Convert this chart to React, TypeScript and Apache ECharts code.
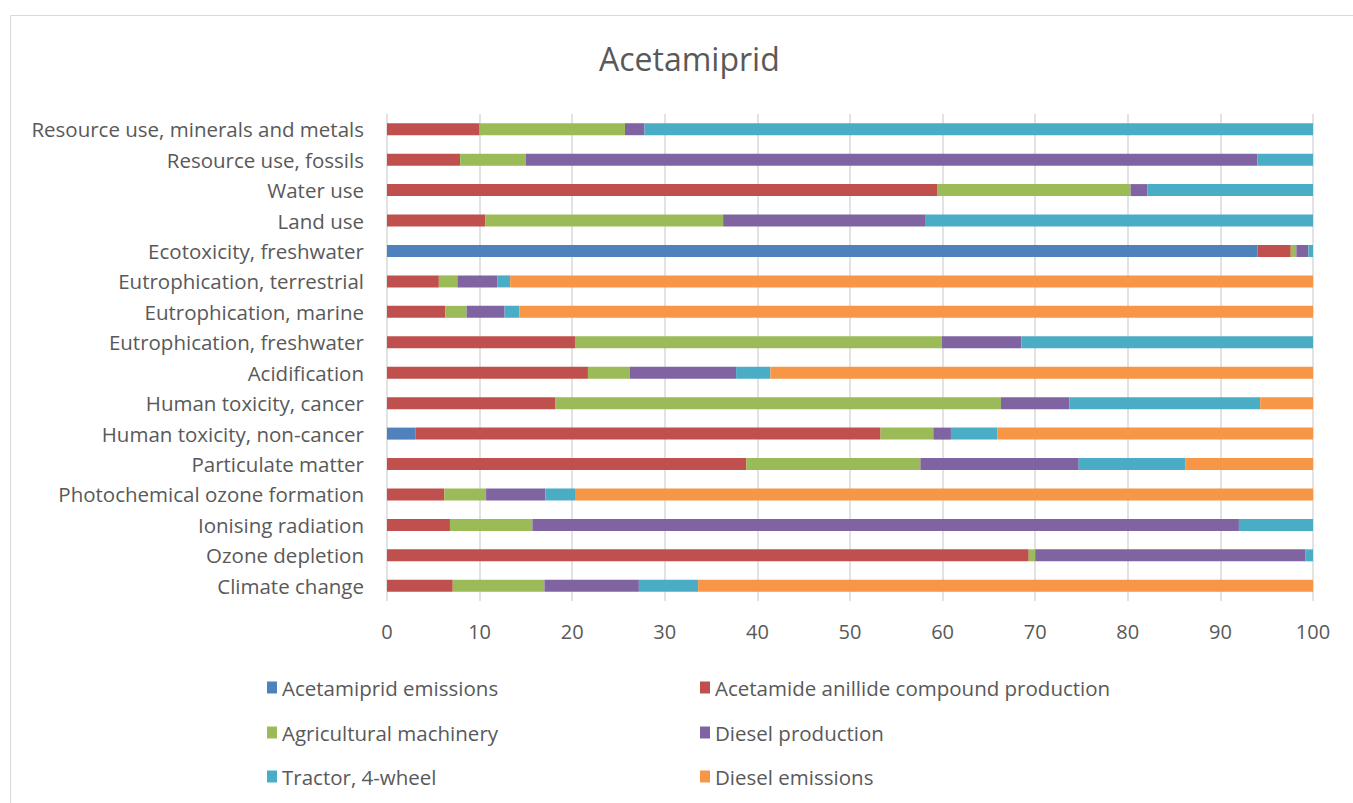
import React, { useEffect, useRef } from "react";
import * as echarts from "echarts";

const categories = [
  "Climate change",
  "Ozone depletion",
  "Ionising radiation",
  "Photochemical ozone formation",
  "Particulate matter",
  "Human toxicity, non-cancer",
  "Human toxicity, cancer",
  "Acidification",
  "Eutrophication, freshwater",
  "Eutrophication, marine",
  "Eutrophication, terrestrial",
  "Ecotoxicity, freshwater",
  "Land use",
  "Water use",
  "Resource use, fossils",
  "Resource use, minerals and metals",
];

const seriesNames = [
  "Acetamiprid emissions",
  "Acetamide anillide compound production",
  "Agricultural machinery",
  "Diesel production",
  "Tractor, 4-wheel",
  "Diesel emissions",
];

const acetamipridEmissions = [0, 0, 0, 0, 0, 3.1, 0, 0, 0, 0, 0, 94.0, 0, 0, 0, 0];
const acetamideProduction = [7.1, 69.3, 6.8, 6.2, 38.8, 50.2, 18.2, 21.7, 20.3, 6.3, 5.6, 3.6, 10.6, 59.4, 7.9, 10.0];
const agriculturalMachinery = [9.9, 0.7, 8.9, 4.5, 18.8, 5.7, 48.1, 4.5, 39.6, 2.3, 2.0, 0.6, 25.7, 20.9, 7.1, 15.7];
const dieselProduction = [10.2, 29.2, 76.3, 6.4, 17.1, 1.9, 7.4, 11.5, 8.6, 4.1, 4.3, 1.3, 21.8, 1.8, 79.0, 2.1];
const tractor4Wheel = [6.4, 0.8, 8.0, 3.2, 11.5, 5.0, 20.6, 3.7, 31.5, 1.6, 1.4, 0.5, 41.9, 17.9, 6.0, 72.2];
const dieselEmissions = [66.4, 0, 0, 79.7, 13.8, 34.1, 5.7, 58.6, 0, 85.7, 86.7, 0, 0, 0, 0, 0];

const xTicks = [0, 10, 20, 30, 40, 50, 60, 70, 80, 90, 100];

const seriesData = [
  acetamipridEmissions,
  acetamideProduction,
  agriculturalMachinery,
  dieselProduction,
  tractor4Wheel,
  dieselEmissions,
];
const colors = ["#4F81BD", "#C0504D", "#9BBB59", "#8064A2", "#4BACC6", "#F79646"];

const FONT = "'Open Sans', 'Noto Sans', sans-serif";
const TEXT = "#595959";

export default function App() {
  const ref = useRef<HTMLDivElement>(null);
  useEffect(() => {
    if (!ref.current) return;
    const chart = echarts.init(ref.current, null, { renderer: "svg" });
    const legendPos = [
      [262, 685],
      [695, 685],
      [262, 730],
      [695, 730],
      [262, 774],
      [695, 774],
    ];
    chart.setOption({
      animation: false,
      backgroundColor: "#ffffff",
      textStyle: { fontFamily: FONT },
      title: {
        text: "Acetamiprid",
        left: 594,
        top: 37,
        textStyle: { fontFamily: FONT, fontSize: 32, fontWeight: "normal", color: TEXT },
      },
      graphic: [
        {
          type: "rect",
          shape: { x: 10.5, y: 15.5, width: 1400, height: 900 },
          style: { fill: "none", stroke: "#d9d9d9", lineWidth: 1 },
          silent: true,
        },
      ],
      legend: seriesNames.map((n, i) => ({
        data: [n],
        left: legendPos[i][0],
        top: legendPos[i][1] - 13,
        icon: "rect",
        itemWidth: 10,
        itemHeight: 12,
        itemGap: 6,
        selectedMode: false,
        textStyle: { fontFamily: FONT, fontSize: 20.5, color: TEXT, padding: [0, 0, 0, 0] },
      })),
      grid: { left: 387, right: 40, top: 114, bottom: 202, containLabel: false },
      xAxis: {
        type: "value",
        min: xTicks[0],
        max: xTicks[xTicks.length - 1],
        interval: 10,
        axisLine: { show: false },
        axisTick: { show: false },
        splitLine: { show: true, lineStyle: { color: "#d9d9d9", width: 1.5 } },
        axisLabel: { fontFamily: FONT, fontSize: 20, color: TEXT, margin: 20 },
      },
      yAxis: {
        type: "category",
        data: categories,
        axisLine: { show: false },
        axisTick: { show: false },
        axisLabel: { fontFamily: FONT, fontSize: 20.5, color: TEXT, margin: 23 },
      },
      series: seriesNames.map((n, i) => ({
        name: n,
        type: "bar",
        stack: "total",
        barWidth: 12,
        data: seriesData[i],
        itemStyle: { color: colors[i] },
      })),
    });
    return () => chart.dispose();
  }, []);
  return (
    <div
      ref={ref}
      style={{ position: "fixed", left: 0, top: 0, width: 1353, height: 803 }}
    />
  );
}
